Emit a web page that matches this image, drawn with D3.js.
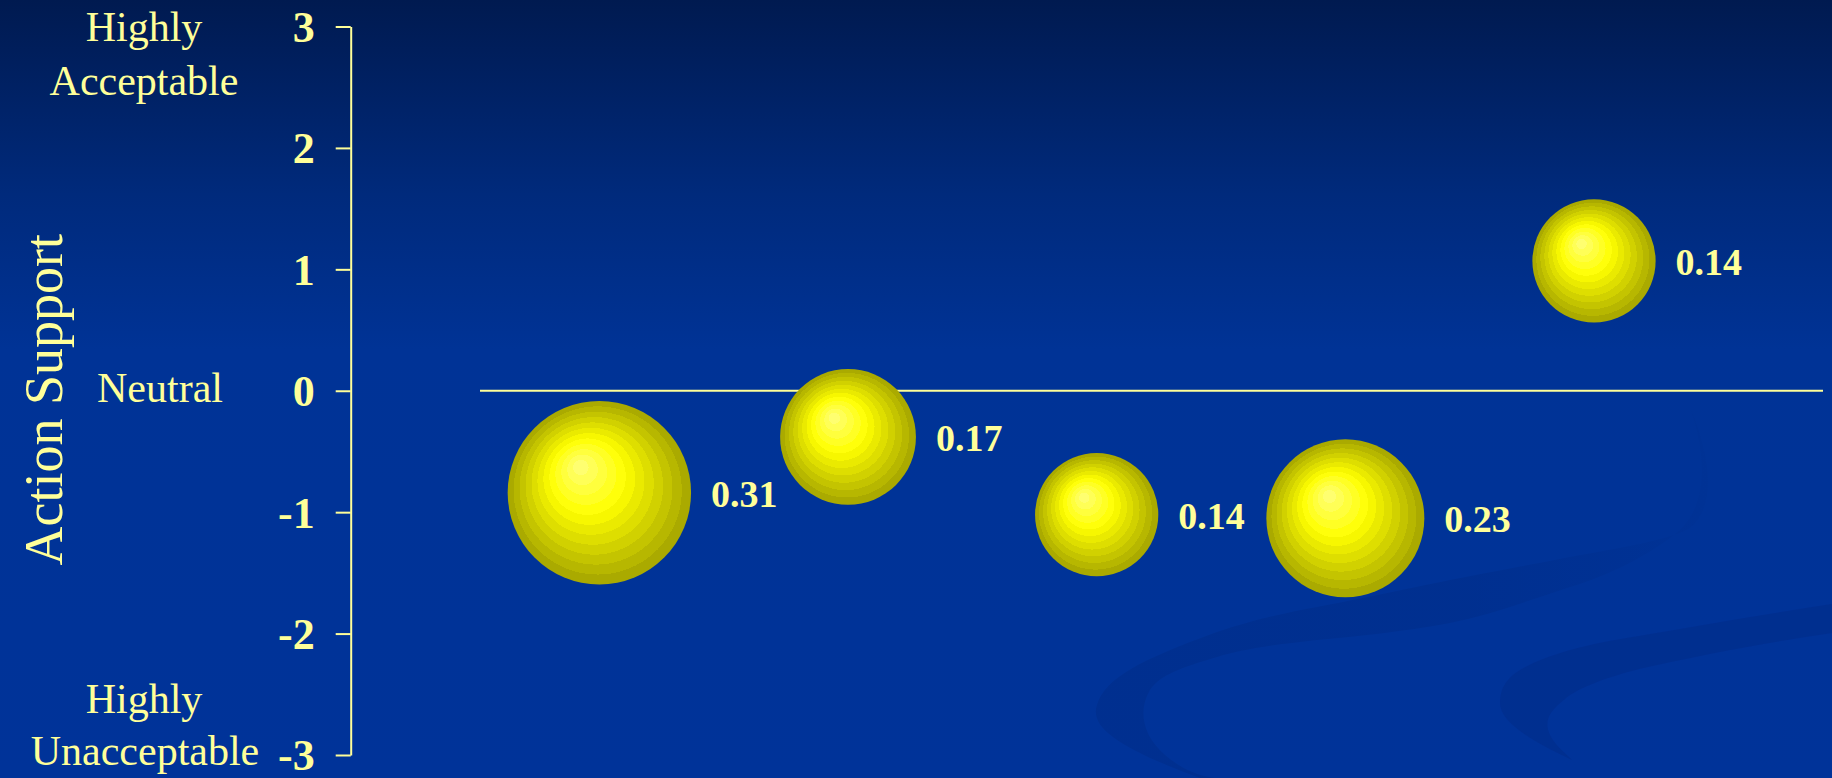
<!DOCTYPE html>
<html>
<head>
<meta charset="utf-8">
<script src="https://cdn.jsdelivr.net/npm/d3@7"></script>
<style>
  html, body { margin: 0; padding: 0; background: #003399; overflow: hidden; }
  svg { display: block; }
  text { font-family: "Liberation Serif", "Times New Roman", serif; }
</style>
</head>
<body>
<svg id="chart" width="1832" height="778"></svg>
<script>
// ---- data ----
const categories = [1, 2, 3, 4, 5];
const supportValues = [-0.84, -0.38, -1.02, -1.05, 1.07];
const bubbleSizes = [0.31, 0.17, 0.14, 0.23, 0.14];
const sizeLabels = ["0.31", "0.17", "0.14", "0.23", "0.14"];
const tickValues = [-3, -2, -1, 0, 1, 2, 3];
const tickLabels = ["-3", "-2", "-1", "0", "1", "2", "3"];
const topNote = ["Highly", "Acceptable"];
const middleNote = ["Neutral"];
const bottomNote = ["Highly", "Unacceptable"];
const yTitle = "Action Support";

// ---- setup ----
const W = 1832, H = 778;
const TEXT = "#ffff99";
const svg = d3.select("#chart");
const defs = svg.append("defs");

// background gradient
const bg = defs.append("linearGradient").attr("id", "bg")
  .attr("x1", 0).attr("y1", 0).attr("x2", 0).attr("y2", 1);
[[0, "#001a50"], [0.08, "#001f5e"], [0.25, "#002a7c"], [0.45, "#003396"], [1, "#003399"]]
  .forEach(([o, c]) => bg.append("stop").attr("offset", o).attr("stop-color", c));
svg.append("rect").attr("width", W).attr("height", H).attr("fill", "url(#bg)");

// decorative swooshes
const sw1 = defs.append("linearGradient").attr("id", "sw1")
  .attr("gradientUnits", "userSpaceOnUse").attr("x1", 1100).attr("y1", 0).attr("x2", 1720).attr("y2", 0);
[[0, 0.55], [0.6, 0.5], [1, 0.1]].forEach(([o, a]) =>
  sw1.append("stop").attr("offset", o).attr("stop-color", "#002c88").attr("stop-opacity", a));
svg.append("path")
  .attr("d", "M1200,778 C1130,752 1088,730 1097,705 C1105,678 1140,660 1217,632 C1260,618 1290,612 1317,607 C1380,595 1420,586 1450,580 C1500,570 1540,563 1570,557 C1620,548 1670,540 1690,528 C1712,510 1716,470 1690,407 C1708,460 1706,505 1680,530 C1650,555 1610,575 1570,587 C1530,600 1490,615 1450,623 C1400,632 1360,636 1317,640 C1270,645 1240,650 1217,657 C1180,668 1160,675 1150,690 C1138,710 1142,735 1165,755 C1180,768 1195,775 1215,778 Z")
  .attr("fill", "url(#sw1)");
svg.append("path")
  .attr("d", "M1572,760 C1530,740 1500,722 1500,703 C1500,690 1505,680 1517,672 C1540,657 1580,645 1639,636 C1720,622 1780,612 1832,604 L1832,633 C1770,642 1700,655 1639,669 C1600,679 1575,690 1565,699 C1548,712 1544,722 1550,735 C1555,745 1565,753 1572,760 Z")
  .attr("fill", "#002c88").attr("fill-opacity", 0.55);

// bubble gradient: stepped radial bands, highlight up-left
const bub = defs.append("radialGradient").attr("id", "bubble")
  .attr("cx", "50%").attr("cy", "50%").attr("r", "50%")
  .attr("fx", "39%").attr("fy", "35%");
const inner = d3.interpolateRgb("#ffff70", "#ffff00");
const outer = d3.interpolateRgb("#ffff00", "#aaaa00");
const N = 12;
for (let i = 0; i < N; i++) {
  const t = i / (N - 1);
  const c = t < 0.4 ? inner(t / 0.4) : outer((t - 0.4) / 0.6);
  bub.append("stop").attr("offset", i / N).attr("stop-color", c);
  bub.append("stop").attr("offset", (i + 1) / N).attr("stop-color", c);
}

// ---- scales ----
const y = d3.scaleLinear().domain([-3, 3]).range([755, 26.5]);
const x = d3.scaleLinear().domain([0, 5]).range([350.7, 1594]);
const r = d3.scaleSqrt().domain([0, 0.31]).range([0, 91.7]);

// zero reference line
svg.append("line")
  .attr("x1", 480).attr("x2", 1823)
  .attr("y1", y(0)).attr("y2", y(0))
  .attr("stroke", TEXT).attr("stroke-width", 2);

// y axis
const axis = d3.axisLeft(y)
  .tickValues(tickValues)
  .tickFormat((d, i) => tickLabels[i])
  .tickSize(15).tickSizeOuter(0).tickPadding(21);
const gAxis = svg.append("g").attr("transform", `translate(${x(0)},0)`).call(axis);
gAxis.select(".domain").attr("stroke", TEXT).attr("stroke-width", 2);
gAxis.selectAll(".tick line").attr("stroke", TEXT).attr("stroke-width", 2);
gAxis.selectAll(".tick text")
  .attr("fill", TEXT)
  .style("font-family", '"Liberation Serif", "Times New Roman", serif')
  .style("font-weight", "bold")
  .style("font-size", "44px")
  .attr("dy", "0.34em");

// y title
svg.append("text")
  .attr("transform", `translate(62,${(y(-3) + y(3)) / 2 + 9}) rotate(-90)`)
  .attr("text-anchor", "middle")
  .attr("fill", TEXT)
  .style("font-size", "54px")
  .text(yTitle);

// scale notes
const noteStyle = sel => sel.attr("text-anchor", "middle").attr("fill", TEXT).style("font-size", "42px");
svg.selectAll("text.top").data(topNote).join("text").attr("class", "top")
  .attr("x", 144).attr("y", (d, i) => y(3) + 14.5 + i * 54).call(noteStyle).text(d => d);
svg.selectAll("text.mid").data(middleNote).join("text").attr("class", "mid")
  .attr("x", 160).attr("y", y(0) + 11).call(noteStyle).text(d => d);
svg.selectAll("text.bot").data(bottomNote).join("text").attr("class", "bot")
  .attr("x", (d, i) => i === 0 ? 144 : 145).attr("y", (d, i) => y(-3) - 42 + i * 52).call(noteStyle).text(d => d);

// bubbles
const rows = categories.map((c, i) => ({ c, v: supportValues[i], s: bubbleSizes[i], label: sizeLabels[i] }));
svg.selectAll("circle.bubble").data(rows).join("circle").attr("class", "bubble")
  .attr("cx", d => x(d.c)).attr("cy", d => y(d.v)).attr("r", d => r(d.s))
  .attr("fill", "url(#bubble)");

svg.selectAll("text.val").data(rows).join("text").attr("class", "val")
  .attr("x", d => x(d.c) + r(d.s) + 20)
  .attr("y", d => y(d.v) + 14)
  .attr("fill", TEXT)
  .style("font-weight", "bold")
  .style("font-size", "38px")
  .text(d => d.label);
</script>
</body>
</html>
